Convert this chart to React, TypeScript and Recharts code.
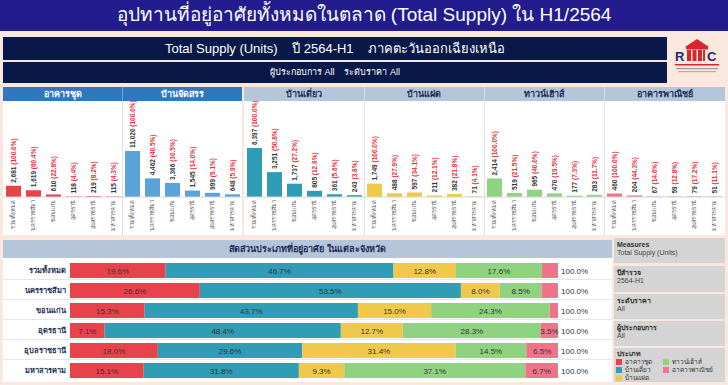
import React from 'react';
import { BarChart, Bar, XAxis, YAxis, LabelList } from 'recharts';

const provinces = ['รวมทั้งหมด', 'นครราชสีมา', 'ขอนแก่น', 'อุดรธานี', 'อุบลราชธานี', 'มหาสารคาม'];

const condoUnits = [2681, 1619, 610, 118, 219, 115];
const condoPct = [100.0, 60.4, 22.8, 4.4, 8.2, 4.3];
const housingUnits = [11020, 4462, 3366, 1545, 999, 648];
const housingPct = [100.0, 40.5, 30.5, 14.0, 9.1, 5.9];
const detachedUnits = [6397, 3251, 1737, 805, 361, 243];
const detachedPct = [100.0, 50.8, 27.2, 12.6, 5.6, 3.8];
const twinUnits = [1749, 488, 597, 211, 382, 71];
const twinPct = [100.0, 27.9, 34.1, 12.1, 21.8, 4.1];
const townUnits = [2414, 519, 965, 470, 177, 283];
const townPct = [100.0, 21.5, 40.0, 19.5, 7.3, 11.7];
const shopUnits = [460, 204, 67, 59, 79, 51];
const shopPct = [100.0, 44.3, 14.6, 12.8, 17.2, 11.1];

const shareCondo = [19.6, 26.6, 15.3, 7.1, 18.0, 15.1];
const shareDetached = [46.7, 53.5, 43.7, 48.4, 29.6, 31.8];
const shareTwin = [12.8, 8.0, 15.0, 12.7, 31.4, 9.3];
const shareTown = [17.6, 8.5, 24.3, 28.3, 14.5, 37.1];
const shareShop = [3.3, 3.4, 1.7, 3.5, 6.5, 6.7];
const shareTotal = ['100.0%', '100.0%', '100.0%', '100.0%', '100.0%', '100.0%'];

const C_CONDO = '#e8434c';
const C_HOUSING = '#5aa3da';
const C_DETACHED = '#2f9db5';
const C_TWIN = '#f1c94a';
const C_TOWN = '#8fd27f';
const C_SHOP = '#f07389';

const FONT = "'Liberation Sans', Arial, sans-serif";

function CatTick(props: any) {
  const { x, y, payload } = props;
  return (
    <text
      transform={`translate(${x + 2},${y - 5}) rotate(-90)`}
      textAnchor="end"
      fontSize={5.5}
      fill="#555"
      fontFamily={FONT}
    >
      {payload.value}
    </text>
  );
}

function Panel(props: { units: number[]; pct: number[]; color: string; max: number; left: number }) {
  const { units, pct, color, max, left } = props;
  const data = provinces.map((p, i) => ({ name: p, v: units[i], pct: pct[i] }));
  const renderLabel = (p: any) => {
    const { x, y, width, value, index } = p;
    const cx = x + width / 2 + 2.3;
    return (
      <text
        transform={`translate(${cx},${y - 3}) rotate(-90)`}
        textAnchor="start"
        fontSize={6.5}
        fontWeight="bold"
        fontFamily={FONT}
      >
        <tspan fill="#333">{Number(value).toLocaleString('en-US')}</tspan>
        <tspan fill="#e8313b">{` (${pct[index].toFixed(1)}%)`}</tspan>
      </text>
    );
  };
  return (
    <div style={{ position: 'absolute', left, top: 101, width: 120, height: 134 }}>
      <BarChart width={120} height={134} data={data} margin={{ top: 5, right: 0, bottom: 0, left: 0 }} barSize={15}>
        <XAxis
          dataKey="name"
          interval={0}
          height={38}
          tickLine={false}
          axisLine={{ stroke: '#d6d6d6' }}
          tick={<CatTick />}
        />
        <YAxis hide domain={[0, max]} />
        <Bar dataKey="v" fill={color} isAnimationActive={false}>
          <LabelList dataKey="v" content={renderLabel} />
        </Bar>
      </BarChart>
    </div>
  );
}

function RowTick(props: any) {
  const { x, y, payload } = props;
  return (
    <text x={x} y={y} dy={3} textAnchor="end" fontSize={7.5} fontWeight="bold" fill="#22304f" fontFamily={FONT}>
      {payload.value}
    </text>
  );
}

function ShareChart() {
  const data = provinces.map((p, i) => ({
    name: p,
    condo: shareCondo[i],
    detached: shareDetached[i],
    twin: shareTwin[i],
    town: shareTown[i],
    shop: shareShop[i],
    total: shareTotal[i],
  }));
  const segLabel = (p: any) => {
    const { x, y, width, height, value } = p;
    if (value < 3.5) return null;
    return (
      <text x={x + width / 2} y={y + height / 2 + 3} textAnchor="middle" fontSize={8} fill="#333" fontFamily={FONT}>
        {`${Number(value).toFixed(1)}%`}
      </text>
    );
  };
  const totalLabel = (p: any) => {
    const { x, y, width, height, index } = p;
    return (
      <text x={x + width + 3} y={y + height / 2 + 3} textAnchor="start" fontSize={8} fill="#333" fontFamily={FONT}>
        {shareTotal[index]}
      </text>
    );
  };
  return (
    <BarChart
      width={605}
      height={124}
      data={data}
      layout="vertical"
      margin={{ top: 2, right: 50, bottom: 2, left: 0 }}
      barSize={15}
    >
      <XAxis type="number" hide domain={[0, 100]} />
      <YAxis type="category" dataKey="name" width={67} tickLine={false} axisLine={false} tickSize={0} tickMargin={4} tick={<RowTick />} interval={0} />
      <Bar dataKey="condo" stackId="a" fill={C_CONDO} isAnimationActive={false}>
        <LabelList dataKey="condo" content={segLabel} />
      </Bar>
      <Bar dataKey="detached" stackId="a" fill={C_DETACHED} isAnimationActive={false}>
        <LabelList dataKey="detached" content={segLabel} />
      </Bar>
      <Bar dataKey="twin" stackId="a" fill={C_TWIN} isAnimationActive={false}>
        <LabelList dataKey="twin" content={segLabel} />
      </Bar>
      <Bar dataKey="town" stackId="a" fill={C_TOWN} isAnimationActive={false}>
        <LabelList dataKey="town" content={segLabel} />
      </Bar>
      <Bar dataKey="shop" stackId="a" fill={C_SHOP} isAnimationActive={false}>
        <LabelList dataKey="shop" content={segLabel} />
        <LabelList dataKey="total" content={totalLabel} />
      </Bar>
    </BarChart>
  );
}

function Box(props: { left: number; top: number; width: number; height: number; bg: string; children?: any; style?: any }) {
  return (
    <div
      style={{
        position: 'absolute',
        left: props.left,
        top: props.top,
        width: props.width,
        height: props.height,
        background: props.bg,
        ...(props.style || {}),
      }}
    >
      {props.children}
    </div>
  );
}

function Header(props: { left: number; width: number; text: string; color: string }) {
  return (
    <div
      style={{
        position: 'absolute',
        left: props.left,
        top: 87,
        width: props.width,
        height: 14,
        lineHeight: '14px',
        textAlign: 'center',
        fontSize: 9,
        fontWeight: 'bold',
        color: props.color,
      }}
    >
      {props.text}
    </div>
  );
}

function InfoBox(props: { top: number; height: number; title: string; value: string }) {
  return (
    <Box left={614} top={props.top} width={111} height={props.height} bg="#d4d4d4">
      <div style={{ position: 'absolute', left: 3, top: 3, fontSize: 7, fontWeight: 'bold', color: '#333', lineHeight: '8px' }}>{props.title}</div>
      <div style={{ position: 'absolute', left: 3, top: 11, fontSize: 7, color: '#444', lineHeight: '8px' }}>{props.value}</div>
    </Box>
  );
}

function LegendItem(props: { left: number; top: number; color: string; text: string }) {
  return (
    <div style={{ position: 'absolute', left: props.left, top: props.top, height: 7, display: 'flex', alignItems: 'center' }}>
      <div style={{ width: 6, height: 6, background: props.color, marginRight: 3 }} />
      <div style={{ fontSize: 6.5, color: '#333', lineHeight: '7px', whiteSpace: 'nowrap' }}>{props.text}</div>
    </div>
  );
}

function Logo() {
  return (
    <svg width={50} height={46} style={{ position: 'absolute', left: 672, top: 37 }}>
      <polygon points="13,10 25,2 37,10" fill="#d8262e" />
      <rect x={14} y={10} width={22} height={2.5} fill="#d8262e" />
      <text x={3} y={24} fontSize={13} fontWeight="bold" fill="#1b2a6b" fontFamily={FONT}>R</text>
      <rect x={15} y={13} width={4} height={11} fill="#d8262e" />
      <rect x={20.5} y={13} width={4} height={11} fill="#d8262e" />
      <rect x={26} y={13} width={4} height={11} fill="#d8262e" />
      <rect x={31} y={13} width={2} height={11} fill="#d8262e" />
      <text x={35} y={24} fontSize={13} fontWeight="bold" fill="#1b2a6b" fontFamily={FONT}>C</text>
      <rect x={3} y={27} width={44} height={1.5} fill="#d8262e" />
      <rect x={4} y={31} width={42} height={1.2} fill="#9a9a9a" />
      <rect x={6} y={34} width={38} height={1.2} fill="#b0b0b0" />
    </svg>
  );
}

export default function App() {
  return (
    <div
      style={{
        position: 'absolute',
        left: 0,
        top: 0,
        width: 728,
        height: 385,
        background: '#fae8df',
        overflow: 'hidden',
        fontFamily: FONT,
      }}
    >
      {/* Title banner */}
      <Box left={0} top={0} width={728} height={31} bg="#221c8e">
        <div style={{ textAlign: 'center', color: '#fff', fontSize: 19, lineHeight: '29px' }}>
          อุปทานที่อยู่อาศัยทั้งหมดในตลาด (Total Supply) ใน H1/2564
        </div>
      </Box>

      {/* navy bars */}
      <Box left={3} top={37} width={664} height={23} bg="#081848">
        <div style={{ textAlign: 'center', color: '#fff', fontSize: 13, lineHeight: '23px', whiteSpace: 'pre' }}>
          {'Total Supply (Units)    ปี 2564-H1    ภาคตะวันออกเฉียงเหนือ'}
        </div>
      </Box>
      <Box left={3} top={62} width={664} height={21} bg="#081848">
        <div style={{ textAlign: 'center', color: '#fff', fontSize: 9, lineHeight: '21px', whiteSpace: 'pre' }}>
          {'ผู้ประกอบการ All    ระดับราคา All'}
        </div>
      </Box>
      <Logo />

      {/* top headers */}
      <Box left={3} top={87} width={239} height={14} bg="#2f77bf" />
      <Box left={122} top={87} width={1} height={14} bg="#6fa3d6" />
      <Header left={3} width={119} text="อาคารชุด" color="#fff" />
      <Header left={122} width={120} text="บ้านจัดสรร" color="#fff" />
      <Box left={244} top={87} width={481} height={14} bg="#b5c5da" />
      <Box left={364} top={87} width={1} height={14} bg="#d6e0ec" />
      <Box left={484} top={87} width={1} height={14} bg="#d6e0ec" />
      <Box left={604} top={87} width={1} height={14} bg="#d6e0ec" />
      <Header left={244} width={120} text="บ้านเดี่ยว" color="#1c2c55" />
      <Header left={364} width={120} text="บ้านแฝด" color="#1c2c55" />
      <Header left={484} width={120} text="ทาวน์เฮ้าส์" color="#1c2c55" />
      <Header left={604} width={121} text="อาคารพาณิชย์" color="#1c2c55" />

      {/* top chart backgrounds */}
      <Box left={3} top={101} width={239} height={134} bg="#ffffff" />
      <Box left={244} top={101} width={481} height={134} bg="#ffffff" />
      <Box left={122} top={101} width={1} height={134} bg="#e2e2e2" />
      <Box left={364} top={101} width={1} height={134} bg="#e2e2e2" />
      <Box left={484} top={101} width={1} height={134} bg="#e2e2e2" />
      <Box left={604} top={101} width={1} height={134} bg="#e2e2e2" />

      <Panel units={condoUnits} pct={condoPct} color={C_CONDO} max={21800} left={3} />
      <Panel units={housingUnits} pct={housingPct} color={C_HOUSING} max={21800} left={122} />
      <Panel units={detachedUnits} pct={detachedPct} color={C_DETACHED} max={11880} left={244} />
      <Panel units={twinUnits} pct={twinPct} color={C_TWIN} max={11880} left={364} />
      <Panel units={townUnits} pct={townPct} color={C_TOWN} max={11880} left={484} />
      <Panel units={shopUnits} pct={shopPct} color={C_SHOP} max={11880} left={604} />

      {/* bottom share chart */}
      <Box left={3} top={240} width={609} height={18} bg="#b5c5da">
        <div style={{ textAlign: 'center', fontSize: 9, fontWeight: 'bold', color: '#1c2c55', lineHeight: '18px', paddingRight: 0 }}>
          สัดส่วนประเภทที่อยู่อาศัย ในแต่ละจังหวัด
        </div>
      </Box>
      <Box left={3} top={258} width={609} height={124} bg="#ffffff" />
      <Box left={3} top={279} width={609} height={1} bg="#e6e6e6" />
      <Box left={3} top={299} width={609} height={1} bg="#e6e6e6" />
      <Box left={3} top={319} width={609} height={1} bg="#e6e6e6" />
      <Box left={3} top={339} width={609} height={1} bg="#e6e6e6" />
      <Box left={3} top={359} width={609} height={1} bg="#e6e6e6" />
      <div style={{ position: 'absolute', left: 3, top: 258 }}>
        <ShareChart />
      </div>

      {/* right info panel */}
      <InfoBox top={238} height={25} title="Measures" value="Total Supply (Units)" />
      <InfoBox top={266} height={26} title="ปีสำรวจ" value="2564-H1" />
      <InfoBox top={294} height={25} title="ระดับราคา" value="All" />
      <InfoBox top={321} height={25} title="ผู้ประกอบการ" value="All" />
      <Box left={614} top={348} width={111} height={34} bg="#d4d4d4">
        <div style={{ position: 'absolute', left: 3, top: 2, fontSize: 7, fontWeight: 'bold', color: '#333', lineHeight: '8px' }}>ประเภท</div>
        <LegendItem left={2} top={10} color={C_CONDO} text="อาคารชุด" />
        <LegendItem left={2} top={18} color={C_DETACHED} text="บ้านเดี่ยว" />
        <LegendItem left={2} top={26} color={C_TWIN} text="บ้านแฝด" />
        <LegendItem left={49} top={10} color={C_TOWN} text="ทาวน์เฮ้าส์" />
        <LegendItem left={49} top={18} color={C_SHOP} text="อาคารพาณิชย์" />
      </Box>
    </div>
  );
}
